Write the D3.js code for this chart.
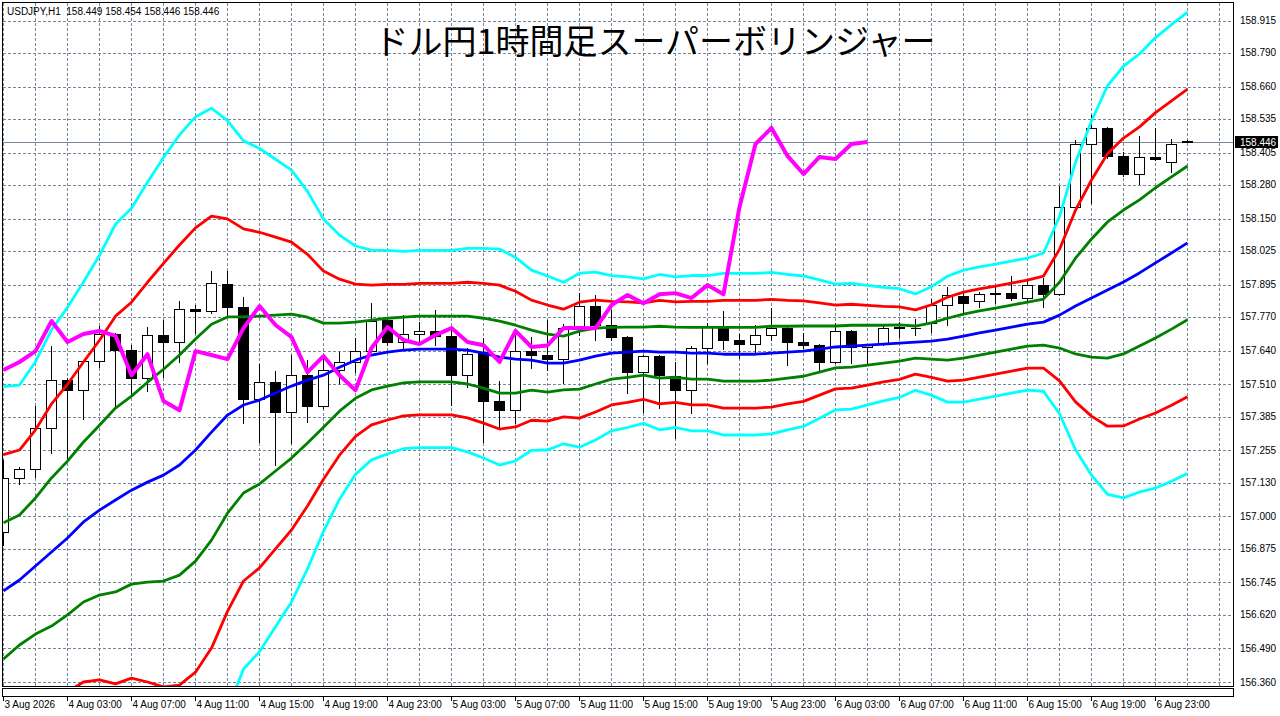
<!DOCTYPE html>
<html><head><meta charset="utf-8">
<script src="https://cdn.jsdelivr.net/npm/d3@7"></script>
<style>body{margin:0;background:#fff;} svg{display:block;}</style>
</head><body>
<svg id="c" width="1280" height="716"></svg>
<script>
// ---------- data ----------
const symbolInfo = "USDJPY,H1  158.449 158.454 158.446 158.446";
const chartTitle = "ドル円1時間足スーパーボリンジャー";
const timeLabels = ["3 Aug 2026","4 Aug 03:00","4 Aug 07:00","4 Aug 11:00","4 Aug 15:00","4 Aug 19:00","4 Aug 23:00",
  "5 Aug 03:00","5 Aug 07:00","5 Aug 11:00","5 Aug 15:00","5 Aug 19:00","5 Aug 23:00",
  "6 Aug 03:00","6 Aug 07:00","6 Aug 11:00","6 Aug 15:00","6 Aug 19:00","6 Aug 23:00"];
const barsPerLabel = 4;
const priceTicks = [158.915,158.790,158.660,158.535,158.405,158.280,158.150,158.025,157.895,157.770,157.640,
  157.510,157.385,157.255,157.130,157.000,156.875,156.745,156.620,156.490,156.360];
const lastPrice = 158.446;
const opens = [156.939,157.148,157.182,157.341,157.526,157.487,157.599,157.704,157.642,157.534,
  157.700,157.673,157.800,157.793,157.898,157.808,157.453,157.518,157.403,157.545,
  157.426,157.565,157.596,157.638,157.758,157.673,157.704,157.716,157.697,157.545,
  157.634,157.445,157.410,157.638,157.623,157.607,157.727,157.812,157.739,157.692,
  157.557,157.619,157.541,157.487,157.650,157.731,157.681,157.665,157.700,157.727,
  157.673,157.661,157.596,157.716,157.654,157.669,157.731,157.727,157.745,157.816,
  157.851,157.831,157.858,157.862,157.843,157.893,157.858,158.195,158.438,158.500,
  158.392,158.322,158.388,158.369,158.449];
const highs = [157.217,157.190,157.426,157.657,157.534,157.603,157.735,157.708,157.661,157.731,
  157.758,157.831,157.816,157.948,157.948,157.847,157.588,157.561,157.623,157.603,
  157.623,157.634,157.688,157.823,157.769,157.777,157.750,157.796,157.719,157.650,
  157.688,157.522,157.719,157.692,157.758,157.742,157.863,157.855,157.796,157.696,
  157.623,157.623,157.596,157.657,157.746,157.793,157.704,157.739,157.804,157.731,
  157.708,157.665,157.746,157.719,157.662,157.739,157.750,157.762,157.839,157.886,
  157.866,157.866,157.886,157.928,157.912,157.920,158.276,158.453,158.550,158.504,
  158.407,158.469,158.500,158.457,158.454];
const lows = [156.889,157.125,157.152,157.244,157.217,157.376,157.576,157.426,157.468,157.484,
  157.538,157.596,157.708,157.785,157.769,157.360,157.287,157.198,157.283,157.364,
  157.418,157.514,157.557,157.634,157.661,157.650,157.661,157.661,157.430,157.499,
  157.287,157.341,157.360,157.572,157.565,157.514,157.700,157.681,157.681,157.476,
  157.403,157.418,157.302,157.399,157.592,157.646,157.611,157.634,157.681,157.584,
  157.650,157.557,157.592,157.592,157.592,157.661,157.692,157.700,157.712,157.739,
  157.781,157.808,157.823,157.835,157.827,157.808,157.855,158.191,158.210,158.384,
  158.314,158.284,158.376,158.330,158.446];
const closes = [157.148,157.183,157.341,157.526,157.487,157.599,157.704,157.642,157.534,157.700,
  157.673,157.800,157.793,157.901,157.808,157.453,157.518,157.403,157.545,157.426,
  157.565,157.596,157.638,157.754,157.673,157.704,157.716,157.697,157.545,157.626,
  157.445,157.410,157.638,157.623,157.607,157.727,157.812,157.739,157.692,157.557,
  157.619,157.545,157.487,157.650,157.731,157.681,157.665,157.700,157.727,157.673,
  157.661,157.596,157.716,157.654,157.660,157.727,157.727,157.726,157.816,157.855,
  157.823,157.858,157.862,157.843,157.893,157.858,158.195,158.438,158.500,158.392,
  158.322,158.388,158.380,158.438,158.446];
const bbMid = [156.712,156.754,156.808,156.862,156.916,156.978,157.024,157.063,157.101,157.132,
  157.159,157.198,157.256,157.325,157.391,157.430,157.449,157.476,157.503,157.526,
  157.545,157.576,157.603,157.623,157.634,157.642,157.646,157.646,157.646,157.642,
  157.630,157.615,157.607,157.603,157.592,157.592,157.603,157.619,157.630,157.634,
  157.638,157.634,157.634,157.630,157.630,157.626,157.626,157.626,157.630,157.634,
  157.638,157.646,157.654,157.657,157.661,157.665,157.669,157.673,157.677,157.684,
  157.696,157.708,157.719,157.731,157.742,157.750,157.777,157.812,157.843,157.874,
  157.905,157.940,157.979,158.017,158.056];
const bbSigma = [.263,.251,.263,.286,.297,.309,.328,.355,.363,.386,
  .409,.425,.429,.417,.379,.340,.324,.301,.278,.243,
  .201,.170,.147,.135,.131,.127,.127,.127,.127,.131,
  .135,.139,.131,.116,.112,.104,.112,.108,.100,.097,
  .093,.100,.097,.100,.100,.104,.104,.104,.104,.100,
  .097,.089,.081,.081,.077,.073,.070,.062,.070,.081,
  .085,.085,.085,.085,.085,.089,.127,.185,.228,.263,
  .278,.282,.290,.294,.297];
const bandDefs = [
  {k:3, color:"#00FFFF"},{k:2, color:"#FF0000"},{k:1, color:"#008000"},{k:0, color:"#0000FF"},
  {k:-1, color:"#008000"},{k:-2, color:"#FF0000"},{k:-3, color:"#00FFFF"}];
const chikouShift = 20;

// ---------- layout ----------
const W = 1280, H = 716;
const plot = {left:2.5, top:2.5, right:1233.5, bottom:686.5};
const nBars = closes.length;
const x = d3.scaleLinear().domain([0, nBars - 1]).range([3.5, 1187.5]);
const y = d3.scaleLinear().domain([156.36, 158.915]).range([682, 20.5]);
const gridColor = "#778899";
const uiFont = "'Liberation Sans', Arial, sans-serif";

const svg = d3.select("#c");
svg.append("rect").attr("width", W).attr("height", H).attr("fill", "#fff");
svg.append("defs").append("clipPath").attr("id", "clip").append("rect")
  .attr("x", plot.left + 0.5).attr("y", plot.top + 0.5)
  .attr("width", plot.right - plot.left - 1).attr("height", plot.bottom - plot.top - 1);

const chart = svg.append("g").attr("clip-path", "url(#clip)");

// grid
chart.append("g").selectAll("line").data(priceTicks).join("line")
  .attr("x1", plot.left).attr("x2", plot.right)
  .attr("y1", d => Math.round(y(d)) + 0.5).attr("y2", d => Math.round(y(d)) + 0.5)
  .attr("stroke", gridColor).attr("stroke-dasharray", "3,2").attr("shape-rendering", "crispEdges");
const gridBars = d3.range(0, nBars + 2, 2);
chart.append("g").selectAll("line").data(gridBars).join("line")
  .attr("x1", d => x(d)).attr("x2", d => x(d))
  .attr("y1", plot.top).attr("y2", plot.bottom)
  .attr("stroke", gridColor).attr("stroke-dasharray", "3,2").attr("shape-rendering", "crispEdges");

// current price line
const lpY = Math.round(y(lastPrice)) + 0.5;
chart.append("line").attr("x1", plot.left).attr("x2", plot.right).attr("y1", lpY).attr("y2", lpY)
  .attr("stroke", gridColor).attr("stroke-width", 1).attr("shape-rendering", "crispEdges");

// candles
const bars = d3.range(nBars).map(i => ({i, o:opens[i], h:highs[i], l:lows[i], c:closes[i]}));
const cg = chart.append("g").attr("shape-rendering", "crispEdges");
const candle = cg.selectAll("g").data(bars).join("g");
candle.append("line")
  .attr("x1", d => x(d.i)).attr("x2", d => x(d.i))
  .attr("y1", d => Math.round(y(d.h))).attr("y2", d => Math.round(y(d.l)) + 1)
  .attr("stroke", "#000");
candle.each(function(d) {
  const g = d3.select(this);
  const yt = Math.round(y(Math.max(d.o, d.c))) + 0.5;
  const yb = Math.round(y(Math.min(d.o, d.c))) + 0.5;
  const cx = x(d.i);
  if (yb - yt < 1) {
    g.append("line").attr("x1", cx - 5).attr("x2", cx + 5.5).attr("y1", yt).attr("y2", yt)
      .attr("stroke", "#000");
  } else {
    g.append("rect").attr("x", cx - 5).attr("y", yt).attr("width", 10).attr("height", yb - yt)
      .attr("fill", d.c >= d.o ? "#fff" : "#000").attr("stroke", "#000");
  }
});

// bollinger bands
const lineGen = d3.line().x((d, i) => x(i)).y(d => y(d));
bandDefs.forEach(b => {
  const vals = bbMid.map((m, i) => m + b.k * bbSigma[i]);
  chart.append("path").datum(vals).attr("d", lineGen)
    .attr("fill", "none").attr("stroke", b.color).attr("stroke-width", 2.8)
    .attr("stroke-linejoin", "round");
});

// lagging close line
const chikou = closes.slice(chikouShift);
chart.append("path").datum(chikou).attr("d", lineGen)
  .attr("fill", "none").attr("stroke", "#FF00FF").attr("stroke-width", 4)
  .attr("stroke-linejoin", "round");

// frames
svg.append("rect").attr("x", plot.left).attr("y", plot.top)
  .attr("width", plot.right - plot.left).attr("height", plot.bottom - plot.top)
  .attr("fill", "none").attr("stroke", "#000").attr("shape-rendering", "crispEdges");
svg.append("rect").attr("x", plot.left).attr("y", 688.5)
  .attr("width", plot.right - plot.left).attr("height", 8)
  .attr("fill", "none").attr("stroke", "#000").attr("shape-rendering", "crispEdges");

// price axis labels
svg.append("g").selectAll("text").data(priceTicks).join("text")
  .attr("x", 1240).attr("y", d => y(d) + 3.5)
  .attr("font-family", uiFont).attr("font-size", 10).attr("fill", "#000")
  .text(d => d.toFixed(3));

// last price label
svg.append("rect").attr("x", 1235).attr("y", lpY - 6.5).attr("width", 43).attr("height", 12).attr("fill", "#000");
svg.append("text").attr("x", 1240).attr("y", lpY + 3.5)
  .attr("font-family", uiFont).attr("font-size", 10).attr("fill", "#fff")
  .text(lastPrice.toFixed(3));

// time axis
const tg = svg.append("g");
timeLabels.forEach((t, k) => {
  const xi = x(k * barsPerLabel);
  tg.append("line").attr("x1", xi).attr("x2", xi).attr("y1", 697).attr("y2", 701)
    .attr("stroke", "#000").attr("shape-rendering", "crispEdges");
  tg.append("text").attr("x", xi + 1).attr("y", 708)
    .attr("font-family", uiFont).attr("font-size", 10).attr("fill", "#000").text(t);
});

// header texts
svg.append("text").attr("x", 7).attr("y", 14.5)
  .attr("font-family", uiFont).attr("font-size", 10).attr("fill", "#000")
  .attr("xml:space", "preserve").style("white-space", "pre").text(symbolInfo);
svg.append("text").attr("x", 655).attr("y", 54).attr("text-anchor", "middle")
  .attr("font-family", "'Noto Sans CJK JP', sans-serif").attr("font-size", 34).attr("fill", "#000")
  .text(chartTitle);
</script>
</body></html>
